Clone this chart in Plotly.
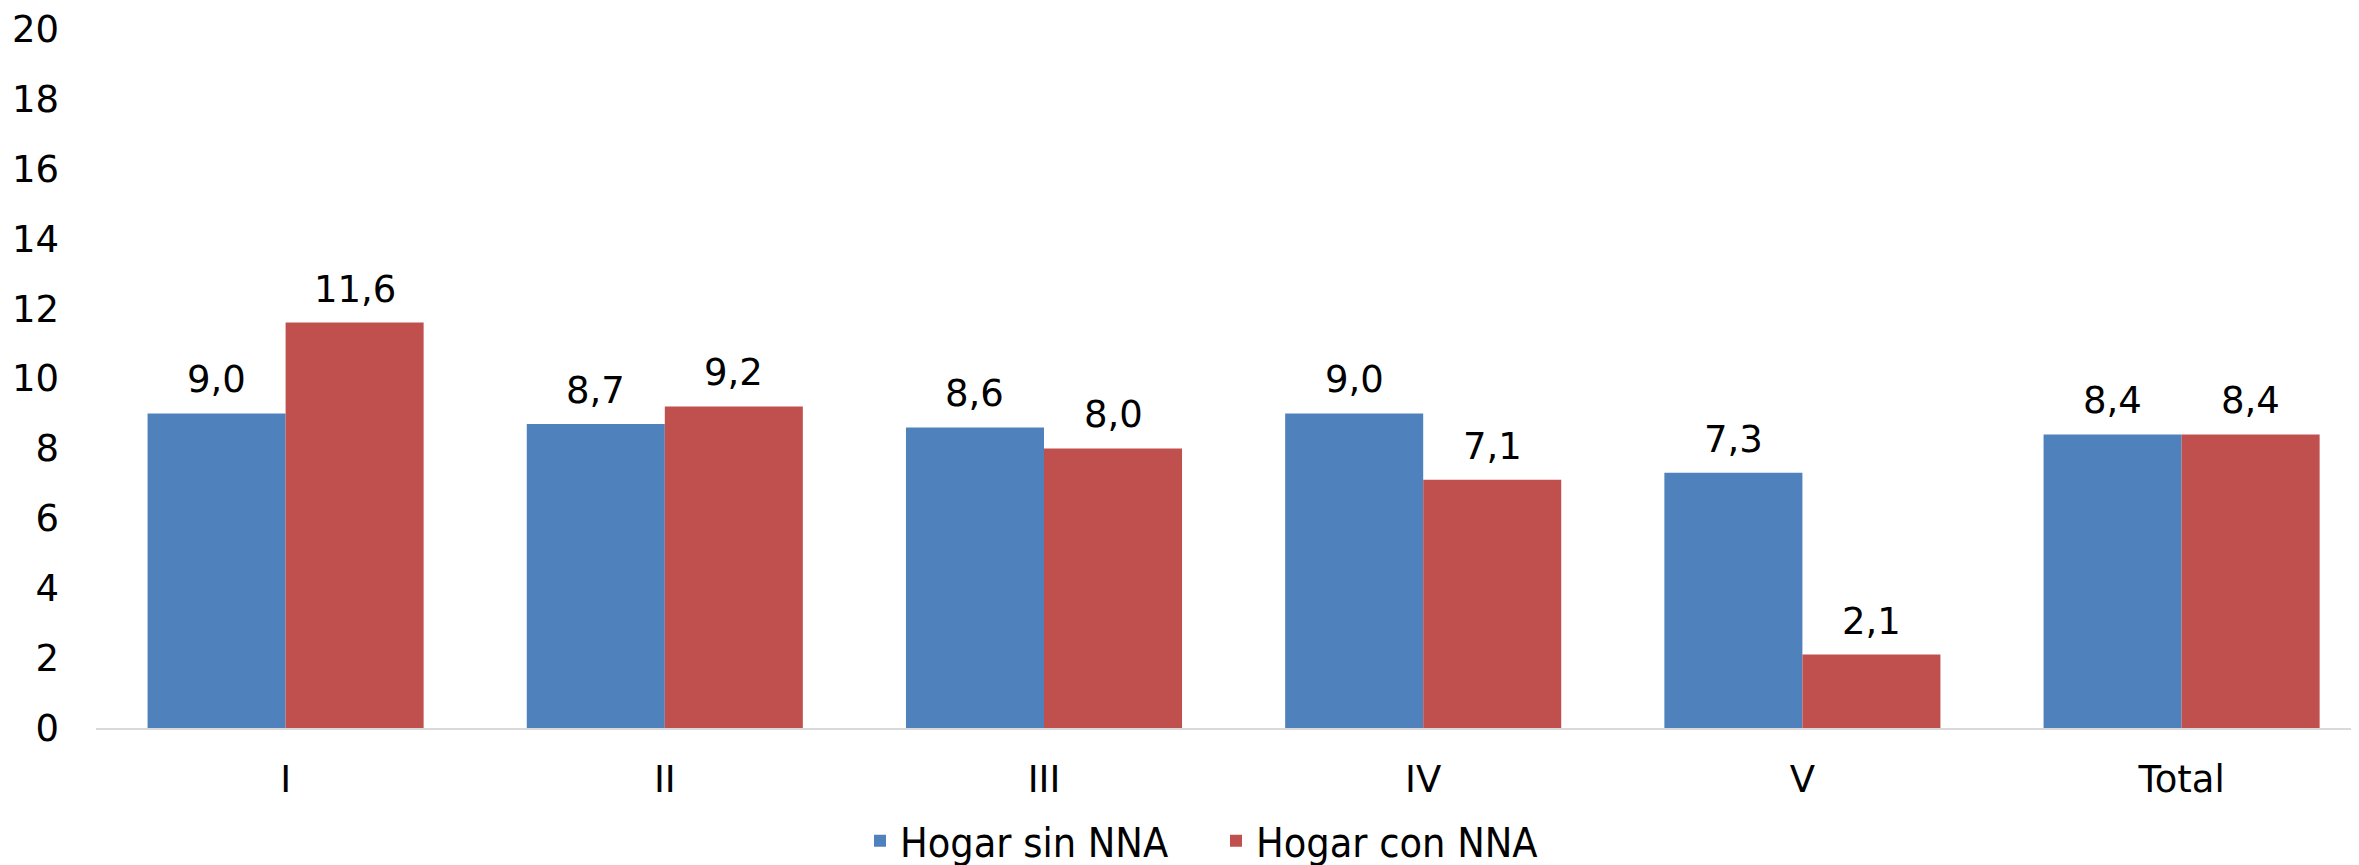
import plotly.graph_objects as go

categories = ["I", "II", "III", "IV", "V", "Total"]
sin_nna = [9.0, 8.7, 8.6, 9.0, 7.3, 8.4]
con_nna = [11.6, 9.2, 8.0, 7.1, 2.1, 8.4]
series_names = ["Hogar sin NNA", "Hogar con NNA"]
y_ticks = [0, 2, 4, 6, 8, 10, 12, 14, 16, 18, 20]

BLUE = "#4F81BD"
RED = "#C0504D"
FONT = "DejaVu Sans"

# the page body adds an 8px offset on the top/left
OFF = 8
W, H = 2359, 865
ML, MR, MT, MB = 96 - OFF, OFF, 29 - OFF, H - (728 - OFF)
PW = W - ML - MR
PH = H - MT - MB
cat_px = 379.2
x_right = -0.5 + PW / cat_px
bargap = 0.272
bar_px = cat_px * (1 - bargap) / 2

fig = go.Figure()
fig.add_trace(go.Bar(x=categories, y=sin_nna, name=series_names[0],
                     marker=dict(color=BLUE, line=dict(width=0))))
fig.add_trace(go.Bar(x=categories, y=con_nna, name=series_names[1],
                     marker=dict(color=RED, line=dict(width=0))))

def fmt(v):
    return f"{v:.1f}".replace(".", ",")

annotations = []
for vals, sh in ((sin_nna, -bar_px / 2), (con_nna, bar_px / 2)):
    for c, v in zip(categories, vals):
        annotations.append(dict(x=c, y=v, xref="x", yref="y", text=fmt(v),
                                showarrow=False, xshift=sh, yshift=10,
                                yanchor="bottom", xanchor="center",
                                font=dict(family=FONT, size=37, color="black")))

fig.update_layout(
    width=W, height=H,
    margin=dict(l=ML, r=MR, t=MT, b=MB, pad=0, autoexpand=False),
    paper_bgcolor="white", plot_bgcolor="white",
    barmode="group", bargap=bargap, bargroupgap=0,
    font=dict(family=FONT, size=37, color="black"),
    showlegend=True,
    legend=dict(orientation="h", x=(860 - OFF - ML) / PW, xanchor="left",
                y=-(841 - OFF - (MT + PH)) / PH, yanchor="middle",
                font=dict(family="DejaVu Sans Condensed", size=41, color="black"),
                itemwidth=30, entrywidth=311, entrywidthmode="pixels",
                tracegroupgap=0, bgcolor="rgba(0,0,0,0)"),
    annotations=annotations,
    xaxis=dict(range=[-0.5, x_right], showline=True, linecolor="#D9D9D9",
               linewidth=2, ticks="", showgrid=False, zeroline=False,
               tickfont=dict(family=FONT, size=37, color="black"),
               ticklabelstandoff=18, ticklabeloverflow="allow"),
    yaxis=dict(range=[0, 20], tickvals=y_ticks, showgrid=False, zeroline=False,
               showline=False, ticks="",
               tickfont=dict(family=FONT, size=37, color="black"),
               ticklabelstandoff=36, ticklabeloverflow="allow"),
)

fig.write_html("out.html")
